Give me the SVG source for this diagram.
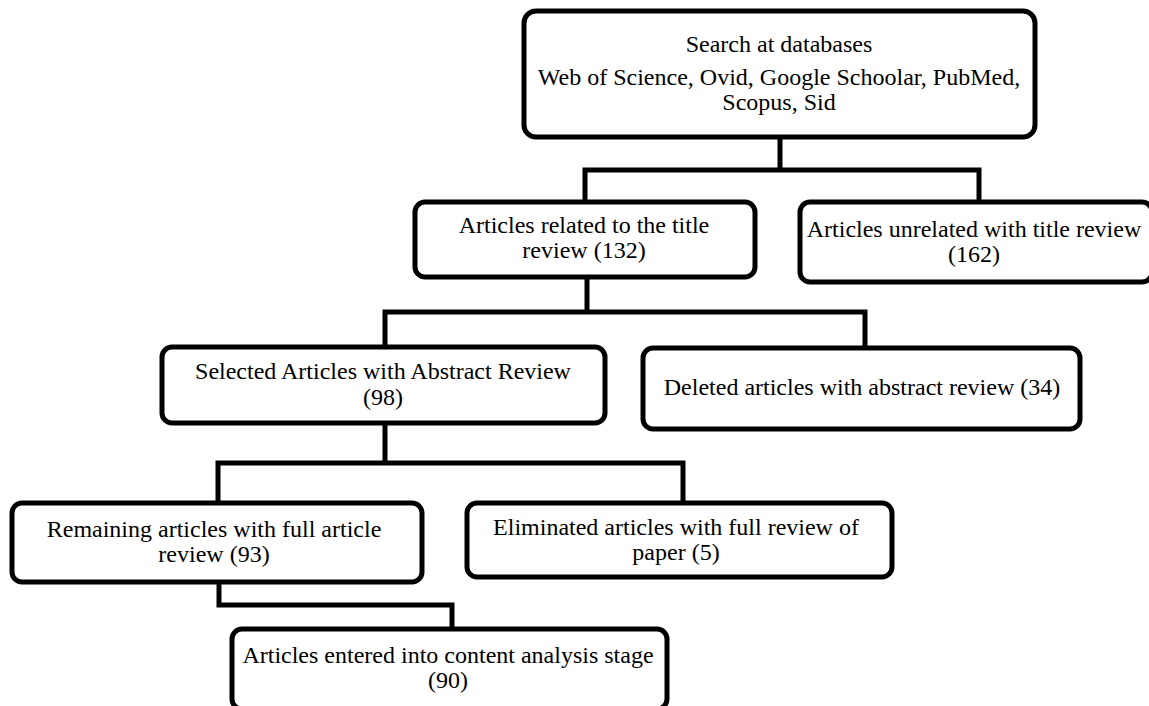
<svg xmlns="http://www.w3.org/2000/svg" width="1149" height="706" viewBox="0 0 1149 706">
<style>
.box{fill:#fff;stroke:#000;stroke-width:5}
.t{font-family:"Liberation Serif","Times New Roman",serif;font-size:24px;fill:#000;text-anchor:middle}
.conn{fill:none;stroke:#000;stroke-width:5;stroke-linejoin:miter;stroke-linecap:butt}
</style>
<rect width="1149" height="706" fill="#fff"/>
<g id="connectors">
<path class="conn" d="M780,137 V170 M585,202 V170 H979 V202"/>
<path class="conn" d="M587,277 V312 M385,347 V312 H865 V348"/>
<path class="conn" d="M385,423 V463 M218,503 V463 H683 V503"/>
<path class="conn" d="M219,582 V605 H452 V629"/>
</g>
<g id="search">
<rect class="box" x="524" y="11" width="511" height="126" rx="12"/>
<text class="t" x="779" y="52">Search at databases</text>
<text class="t" x="779" y="85">Web of Science, Ovid, Google Schoolar, PubMed,</text>
<text class="t" x="779" y="110">Scopus, Sid</text>
</g>
<g id="related">
<rect class="box" x="415" y="202" width="340" height="75" rx="10"/>
<text class="t" x="584" y="233">Articles related to the title</text>
<text class="t" x="584" y="258">review (132)</text>
</g>
<g id="unrelated">
<rect class="box" x="800" y="202" width="352" height="80" rx="10"/>
<text class="t" x="974" y="237">Articles unrelated with title review</text>
<text class="t" x="974" y="262">(162)</text>
</g>
<g id="selected">
<rect class="box" x="162" y="347" width="443" height="76" rx="10"/>
<text class="t" x="383" y="379">Selected Articles with Abstract Review</text>
<text class="t" x="383" y="405">(98)</text>
</g>
<g id="deleted">
<rect class="box" x="643" y="348" width="437" height="81" rx="10"/>
<text class="t" x="862" y="395">Deleted articles with abstract review (34)</text>
</g>
<g id="remaining">
<rect class="box" x="12" y="503" width="410" height="79" rx="10"/>
<text class="t" x="214" y="537">Remaining articles with full article</text>
<text class="t" x="214" y="562">review (93)</text>
</g>
<g id="eliminated">
<rect class="box" x="467" y="503" width="425" height="74" rx="10"/>
<text class="t" x="676" y="535">Eliminated articles with full review of</text>
<text class="t" x="676" y="560">paper (5)</text>
</g>
<g id="entered">
<rect class="box" x="232" y="629" width="435" height="80" rx="10"/>
<text class="t" x="448" y="663">Articles entered into content analysis stage</text>
<text class="t" x="448" y="688">(90)</text>
</g>
</svg>
